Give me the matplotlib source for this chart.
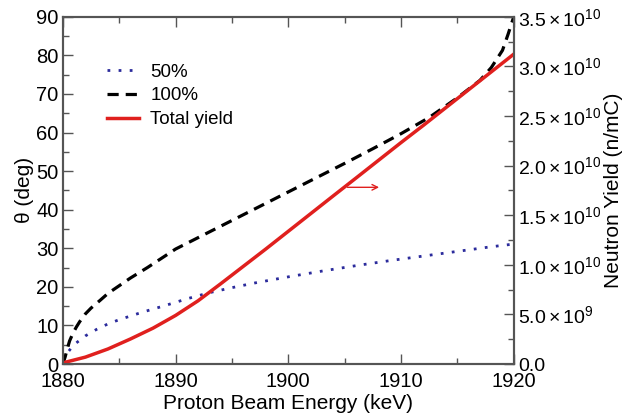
import matplotlib
matplotlib.use("Agg")
import matplotlib.pyplot as plt
from matplotlib.ticker import MultipleLocator, FuncFormatter

plt.rcParams['font.family'] = ['Liberation Sans', 'DejaVu Sans']
plt.rcParams['mathtext.fontset'] = 'custom'
plt.rcParams['mathtext.rm'] = 'Liberation Sans'
plt.rcParams['mathtext.it'] = 'Liberation Sans:italic'

# 50% angle (deg) vs proton energy (keV)
energy_50 = [1880.0, 1880.3, 1880.7, 1881.2, 1882, 1883, 1884, 1885, 1887, 1889, 1891,
             1893, 1895, 1897, 1900, 1903, 1906, 1909, 1912, 1915, 1918, 1920]
theta_50 = [1.0, 2.5, 4.0, 5.5, 7.3, 9.0, 10.4, 11.5, 13.4, 15.1, 16.9,
            18.5, 19.8, 21.0, 22.6, 24.1, 25.5, 26.8, 28.0, 29.2, 30.4, 31.1]

# 100% angle (deg)
energy_100 = [1880.0, 1880.2, 1880.4, 1880.6, 1880.9, 1881.2, 1881.5, 1882, 1882.5,
              1883.3, 1884, 1885, 1886, 1887.5, 1890, 1892.5, 1895, 1897.5, 1900,
              1902.5, 1905, 1907.5, 1910, 1912.5, 1915, 1917, 1918, 1919, 1919.5, 1920]
theta_100 = [0.0, 1.8, 4.0, 6.0, 8.0, 9.6, 11.0, 13.0, 14.5,
             16.5, 18.3, 20.3, 22.3, 25.0, 29.8, 33.5, 37.2, 40.9, 44.6,
             48.3, 52.0, 55.8, 59.7, 63.9, 69.0, 73.5, 76.8, 81.3, 85.5, 90.0]

# total neutron yield (n/mC)
energy_yield = [1880, 1882, 1884, 1886, 1888, 1890, 1892, 1894, 1896, 1898, 1900,
                1902, 1904, 1906, 1908, 1910, 1912, 1914, 1916, 1918, 1920]
neutron_yield = [0.12e9, 0.70e9, 1.52e9, 2.53e9, 3.62e9, 4.90e9, 6.38e9, 8.09e9,
                 9.84e9, 11.59e9, 13.38e9, 15.17e9, 16.96e9, 18.74e9, 20.53e9,
                 22.32e9, 24.07e9, 25.86e9, 27.65e9, 29.44e9, 31.23e9]

fig = plt.figure(figsize=(6.22, 4.18), dpi=100)
ax = fig.add_axes([0.101, 0.129, 0.725, 0.831])
ax2 = ax.twinx()

edge = '#555555'
l50, = ax.plot(energy_50, theta_50, color='#2b2b9c', ls=(0, (1, 3)), lw=2, label='50%')
l100, = ax.plot(energy_100, theta_100, color='black', ls=(0, (3.5, 2.2)), lw=2.3, label='100%')
ly, = ax2.plot(energy_yield, neutron_yield, color='#e0201e', lw=2.5, label='Total yield')

ax.set_xlim(1880, 1920)
ax.set_ylim(0, 90)
ax2.set_ylim(0, 3.5e10)

ax.xaxis.set_major_locator(MultipleLocator(10))
ax.xaxis.set_minor_locator(MultipleLocator(5))
ax.yaxis.set_major_locator(MultipleLocator(10))
ax.yaxis.set_minor_locator(MultipleLocator(5))
ax2.yaxis.set_major_locator(MultipleLocator(0.5e10))
ax2.yaxis.set_minor_locator(MultipleLocator(0.25e10))


def sci(v, pos):
    if v == 0:
        return '0.0'
    exp = 10 if v >= 1e10 else 9
    return r'$%.1f\times10^{%d}$' % (v / 10**exp, exp)


ax2.yaxis.set_major_formatter(FuncFormatter(sci))

ax.tick_params(which='both', direction='in', colors=edge, labelcolor='black', labelsize=14.5,
               top=True, pad=3)
ax.tick_params(axis='x', which='both', pad=6)
ax.tick_params(which='major', length=7, width=1)
ax.tick_params(which='minor', length=4, width=1)
ax2.tick_params(which='both', direction='in', colors=edge, labelcolor='black', labelsize=14, pad=3)
ax2.tick_params(which='major', length=7, width=1)
ax2.tick_params(which='minor', length=4, width=1)
for a in (ax, ax2):
    for s in a.spines.values():
        s.set_color(edge)
        s.set_linewidth(1.5)

ax.set_xlabel('Proton Beam Energy (keV)', fontsize=15, labelpad=2)
ax.set_ylabel('θ (deg)', fontsize=15, labelpad=2)
ax2.set_ylabel('Neutron Yield (n/mC)', fontsize=15, labelpad=2)

ax.annotate('', xy=(1908.3, 45.8), xytext=(1905, 45.8),
            arrowprops=dict(arrowstyle='->', color='#e0201e', lw=1))

ax.legend(handles=[l50, l100, ly], loc='upper left', bbox_to_anchor=(0.098, 0.865),
          frameon=False, fontsize=13.5, handlelength=1.7, handletextpad=0.6,
          labelspacing=0.35, borderpad=0, borderaxespad=0)

fig.savefig('out.png', dpi=100)
